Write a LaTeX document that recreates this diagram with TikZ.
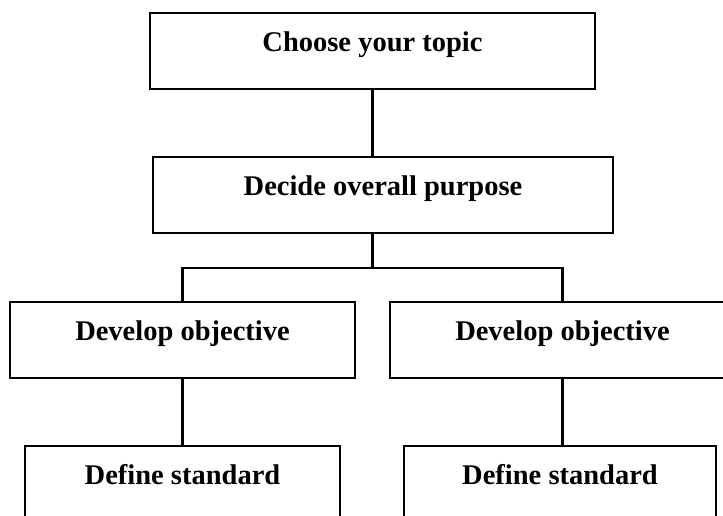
\documentclass[tikz,border=0pt]{standalone}
\usepackage{fontspec}
\setmainfont{Liberation Serif}
\begin{document}
\begin{tikzpicture}[x=1pt, y=-1pt,
    box/.style={draw, line width=2.6pt, minimum height=76pt, inner sep=0pt,
      text height=10pt, text depth=10pt, font=\bfseries\fontsize{28.5}{34}\selectfont},
    link/.style={line width=2.6pt}]
      \useasboundingbox (0,0) rectangle (723,515);

      \node [box, minimum width=445pt] (topic) at (372.5,51) {Choose your topic};
      \node [box, minimum width=460pt] (purpose) at (383,195) {Decide overall purpose};

      \node [box, minimum width=345pt] (objL) at (182.5,340) {Develop objective};
      \node [box, minimum width=345pt] (objR) at (562.5,340) {Develop objective};

      \node [box, minimum width=315pt] (stdL) at (182.5,484) {Define standard};
      \node [box, minimum width=312pt] (stdR) at (560,484) {Define standard};

      \coordinate (split) at (372.5,268);
      \draw [link] (topic) -- (topic |- purpose.north);
      \draw [link] (split |- purpose.south) -- (split);
      \draw [link] (split) -| (objL);
      \draw [link] (split) -| (objR);
      \draw [link] (objL) -- (objL |- stdL.north);
      \draw [link] (objR) -- (objR |- stdR.north);
    \end{tikzpicture}
\end{document}
